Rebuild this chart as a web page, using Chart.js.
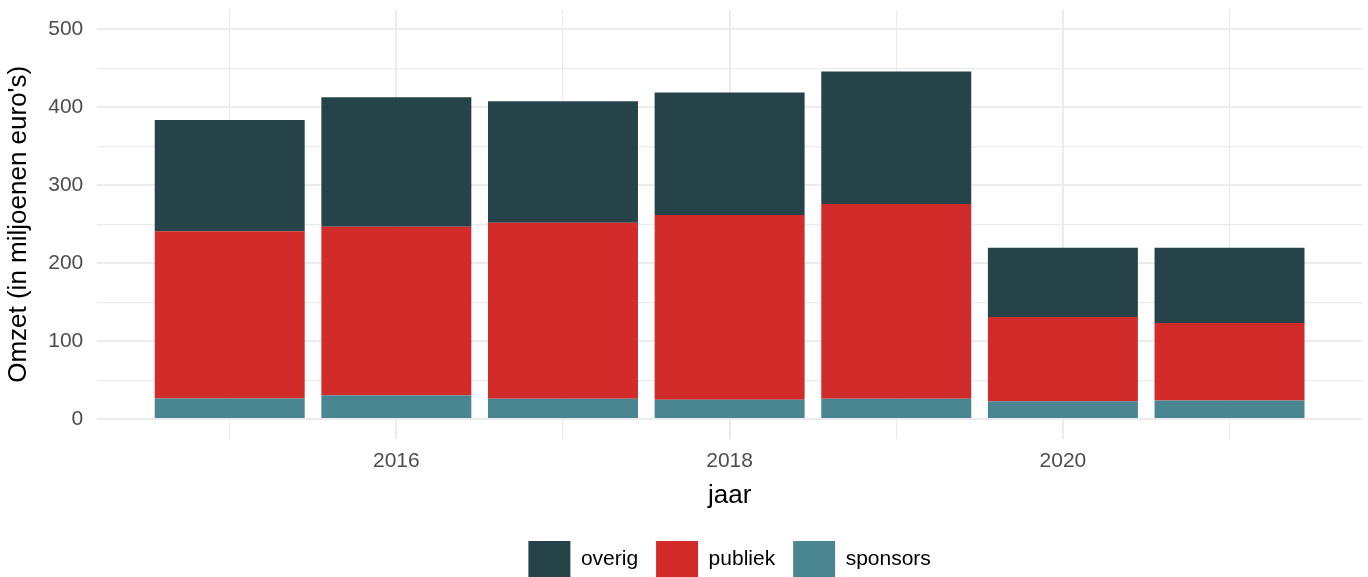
<!DOCTYPE html>
<html>
<head>
<meta charset="utf-8">
<script src="https://cdn.jsdelivr.net/npm/chart.js@4"></script>
<style>
  html, body { margin: 0; padding: 0; background: #fff; }
  #wrap { width: 1368px; height: 577px; }
</style>
</head>
<body>
<div id="wrap"><canvas id="myChart"></canvas></div>
<script>
const years = [2015, 2016, 2017, 2018, 2019, 2020, 2021];
const sponsors = [26.6, 30.5, 26.2, 25.0, 26.2, 22.8, 24.0];
const publiek = [214.4, 216.3, 225.8, 236.8, 249.8, 108.2, 99.2];
const overig = [143.0, 166.2, 156.0, 157.2, 170.0, 89.0, 96.8];
const yTicks = [0, 50, 100, 150, 200, 250, 300, 350, 400, 450, 500];
const xLabels = [2016, 2018, 2020];

const toPoints = vals => years.map((yr, i) => ({ x: yr, y: vals[i] }));
const gridColor = '#EBEBEB';
const tickFont = { family: 'Liberation Sans, Arial, sans-serif', size: 21 };
const titleFont = { family: 'Liberation Sans, Arial, sans-serif', size: 26 };

const ctx = document.getElementById('myChart').getContext('2d');
const omzetChart = new Chart(ctx, {
  type: 'bar',
  data: {
    datasets: [
      { label: 'sponsors', data: toPoints(sponsors), backgroundColor: '#4A8692' },
      { label: 'publiek', data: toPoints(publiek), backgroundColor: '#D12B2A' },
      { label: 'overig', data: toPoints(overig), backgroundColor: '#27434A' }
    ]
  },
  options: {
    responsive: true,
    maintainAspectRatio: false,
    animation: false,
    datasets: {
      bar: { barPercentage: 0.9, categoryPercentage: 1.0 }
    },
    layout: { padding: { top: 10, right: 6, left: -3, bottom: -10 } },
    plugins: {
      tooltip: { enabled: false },
      legend: {
        position: 'bottom',
        reverse: true,
        fullSize: false,
        labels: {
          boxWidth: 42,
          boxHeight: 36,
          padding: 18,
          color: '#000',
          font: tickFont
        }
      }
    },
    scales: {
      x: {
        type: 'linear',
        stacked: true,
        offset: false,
        min: 2014.205,
        max: 2021.795,
        afterBuildTicks: scale => { scale.ticks = years.map(v => ({ value: v })); },
        ticks: {
          autoSkip: false,
          maxRotation: 0,
          padding: 10,
          color: '#4D4D4D',
          font: tickFont,
          callback: v => xLabels.includes(v) ? String(v) : ''
        },
        grid: {
          offset: false,
          color: gridColor,
          drawTicks: false,
          lineWidth: c => (c.tick && c.tick.value % 2 === 0) ? 2 : 1.2
        },
        border: { display: false },
        title: {
          display: true,
          text: 'jaar',
          color: '#000',
          font: titleFont,
          padding: { top: -4, bottom: 12 }
        }
      },
      y: {
        stacked: true,
        min: -25,
        max: 525,
        afterBuildTicks: scale => { scale.ticks = yTicks.map(v => ({ value: v })); },
        afterFit: scale => { scale.paddingTop = 0; scale.paddingBottom = 0; },
        ticks: {
          autoSkip: false,
          padding: 14,
          color: '#4D4D4D',
          font: tickFont,
          callback: v => v % 100 === 0 ? String(v) : ''
        },
        grid: {
          color: gridColor,
          drawTicks: false,
          lineWidth: c => (c.tick && c.tick.value % 100 === 0) ? 2 : 1.2
        },
        border: { display: false },
        title: {
          display: true,
          text: "Omzet (in miljoenen euro's)",
          color: '#000',
          font: titleFont,
          padding: { top: 6, bottom: 0 }
        }
      }
    }
  }
});
</script>
</body>
</html>
